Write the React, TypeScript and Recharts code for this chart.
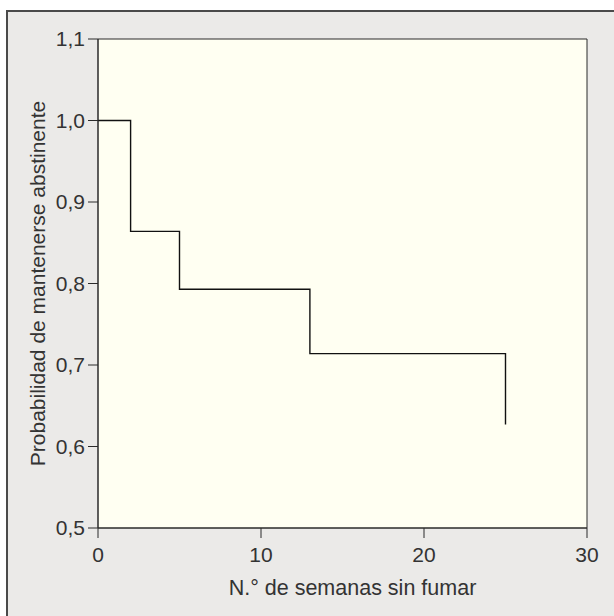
import { LineChart, Line, XAxis, YAxis, ReferenceArea, Label } from "recharts";

// ---------------------------------------------------------------------------
// Data (Kaplan-Meier style survival steps)
// ---------------------------------------------------------------------------

const weeks = [0, 2, 5, 13, 25];
const probability = [1.0, 0.864, 0.793, 0.714, 0.627];
const xTicks = [0, 10, 20, 30];
const yTicks = [0.5, 0.6, 0.7, 0.8, 0.9, 1.0, 1.1];

const data = weeks.map((w, i) => ({ week: w, p: probability[i] }));

const FONT = "'Liberation Sans', Arial, Helvetica, sans-serif";
const TEXT = "#333";
const AXIS = "#2a2a2a";

const fmtComma = (v: number) => v.toFixed(1).replace(".", ",");

export default function App() {
  return (
    <div
      style={{
        position: "absolute",
        left: 0,
        top: 0,
        width: 614,
        height: 616,
        overflow: "hidden",
        background: "#fff",
        fontFamily: FONT,
      }}
    >
      {/* outer frame, runs off the right and bottom edges */}
      <div
        style={{
          position: "absolute",
          left: 6,
          top: 10,
          width: 640,
          height: 640,
          background: "#ebeae8",
          borderLeft: "2px solid #4a4a4a",
          borderTop: "2px solid #4a4a4a",
        }}
      />
      <div style={{ position: "absolute", left: 0, top: 0 }}>
        <LineChart
          width={614}
          height={616}
          data={data}
          margin={{ top: 39, right: 27, left: 28, bottom: 18 }}
        >
          <XAxis
            dataKey="week"
            type="number"
            domain={[0, 30]}
            ticks={xTicks}
            allowDataOverflow
            stroke={AXIS}
            tickSize={10}
            tickMargin={9}
            height={70}
            tick={{ fill: TEXT, fontSize: 21, fontFamily: FONT }}
          >
            <Label
              value="N.° de semanas sin fumar"
              position="insideBottom"
              offset={3}
              dx={10}
              style={{ fill: TEXT, fontSize: 21.5, fontFamily: FONT }}
            />
          </XAxis>
          <YAxis
            type="number"
            domain={[0.5, 1.1]}
            ticks={yTicks}
            allowDataOverflow
            stroke={AXIS}
            tickSize={10}
            tickMargin={3}
            width={70}
            tickFormatter={fmtComma}
            tick={{ fill: TEXT, fontSize: 21, fontFamily: FONT }}
          >
            <Label
              value="Probabilidad de mantenerse abstinente"
              angle={-90}
              position="insideLeft"
              offset={10}
              style={{ fill: TEXT, fontSize: 21, fontFamily: FONT, textAnchor: "middle" }}
            />
          </YAxis>
          <ReferenceArea
            x1={0}
            x2={30}
            y1={0.5}
            y2={1.1}
            fill="#fffff2"
            fillOpacity={1}
            stroke={AXIS}
            strokeWidth={1}
            ifOverflow="visible"
          />
          <Line
            type="stepAfter"
            dataKey="p"
            stroke="#111"
            strokeWidth={1.4}
            dot={false}
            isAnimationActive={false}
          />
        </LineChart>
      </div>
    </div>
  );
}
